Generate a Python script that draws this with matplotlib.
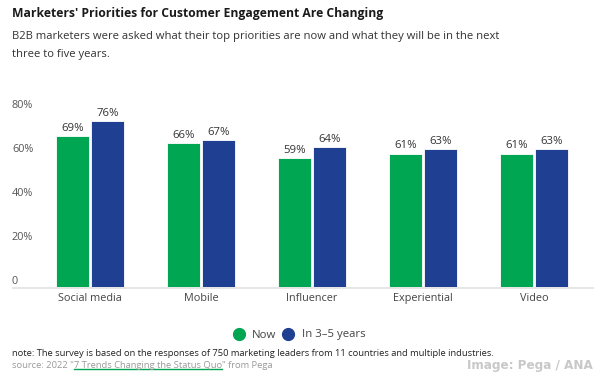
import numpy as np
import matplotlib
matplotlib.use("Agg")
import matplotlib.pyplot as plt
from matplotlib.lines import Line2D
from matplotlib.transforms import blended_transform_factory, offset_copy

plt.rcParams['font.family'] = ['Open Sans', 'DejaVu Sans']

# datos
categorias = ["Social media", "Mobile", "Influencer", "Experiential", "Video"]
ahora = [69, 66, 59, 61, 61]
futuro = [76, 67, 64, 63, 63]
series = ["Now", "In 3\u20135 years"]
yticks = [0, 20, 40, 60, 80]
ytick_labels = ["0", "20%", "40%", "60%", "80%"]

verde = "#00a651"
azul = "#1e3f92"

W, H = 600, 379
fig = plt.figure(figsize=(6, 3.79), dpi=100)
ax = fig.add_axes([34.5 / W, 1 - 287 / H, 555 / W, 175 / H])

x = np.arange(len(categorias))
ancho = 0.30
off = 0.158
b1 = ax.bar(x - off, ahora, ancho, color=verde, edgecolor="white", linewidth=0.6)
b2 = ax.bar(x + off, futuro, ancho, color=azul, edgecolor="white", linewidth=0.6)

for barras, vals in ((b1, ahora), (b2, futuro)):
    for r, v in zip(barras, vals):
        ax.annotate(f"{v}%", (r.get_x() + r.get_width() / 2, v),
                    xytext=(0, 1.5), textcoords="offset points",
                    ha="center", va="bottom", fontsize=8.2, color="#333333")

ax.set_xlim(-0.5, len(categorias) - 0.5)
ax.set_ylim(0, 80)
for s in ax.spines.values():
    s.set_visible(False)
ax.set_yticks([])
ax.set_xticks(x)
ax.set_xticklabels(categorias, fontsize=7.8, color="#444444")
ax.tick_params(axis="x", length=0, pad=4.5)

# etiquetas del eje y encima de la posición
tr = offset_copy(blended_transform_factory(fig.transFigure, ax.transData),
                 fig=fig, x=0, y=6, units="dots")
for v, lab in zip(yticks, ytick_labels):
    fig.text(12 / W, v, lab, transform=tr, ha="left", va="center",
             fontsize=7.8, color="#555555")

# línea base
fig.add_artist(Line2D([13 / W, 593 / W], [1 - 287.5 / H] * 2,
                      color="#e2e2e2", linewidth=1.2, transform=fig.transFigure))

# título y subtítulo
fig.text(12 / W, 1 - 14 / H, "Marketers' Priorities for Customer Engagement Are Changing",
         fontsize=8.7, fontweight="bold", color="#1a1a1a", ha="left", va="center")
fig.text(12 / W, 1 - 36 / H,
         "B2B marketers were asked what their top priorities are now and what they will be in the next",
         fontsize=8.1, color="#333333", ha="left", va="center")
fig.text(12 / W, 1 - 54 / H, "three to five years.",
         fontsize=8.1, color="#333333", ha="left", va="center")

# leyenda
for cx, tx, col, lab in ((239, 252, verde, series[0]), (288, 302, azul, series[1])):
    fig.add_artist(Line2D([cx / W], [1 - 334 / H], marker="o", markersize=8.5,
                          color=col, linestyle="none", transform=fig.transFigure))
    fig.text(tx / W, 1 - 335 / H, lab, fontsize=8.2, color="#444444",
             ha="left", va="center")

# nota y fuente
fs = 6.72
fig.text(12 / W, 1 - 354 / H,
         "note: The survey is based on the responses of 750 marketing leaders from 11 countries and multiple industries.",
         fontsize=fs, color="#222222", ha="left", va="center")
t0 = fig.text(12 / W, 1 - 365 / H, "source: 2022 \"", fontsize=fs, color="#999999",
              ha="left", va="center")
fig.canvas.draw()
r = fig.canvas.get_renderer()
bb = t0.get_window_extent(r)
t1 = fig.text(bb.x1 / W, 1 - 365 / H, "7 Trends Changing the Status Quo",
              fontsize=fs, color="#999999", ha="left", va="center")
bb1 = t1.get_window_extent(r)
fig.add_artist(Line2D([bb1.x0 / W, bb1.x1 / W], [1 - 369 / H] * 2, color=verde,
                      linewidth=1.0, transform=fig.transFigure))
fig.text(bb1.x1 / W, 1 - 365 / H, "\" from Pega", fontsize=fs, color="#999999",
         ha="left", va="center")

fig.text(593 / W, 1 - 365 / H, "Image: Pega / ANA", fontsize=9.6, fontweight="bold",
         fontstretch="condensed", family="DejaVu Sans", color="#c8c8c8",
         ha="right", va="center")

fig.savefig("out.png", dpi=100)
